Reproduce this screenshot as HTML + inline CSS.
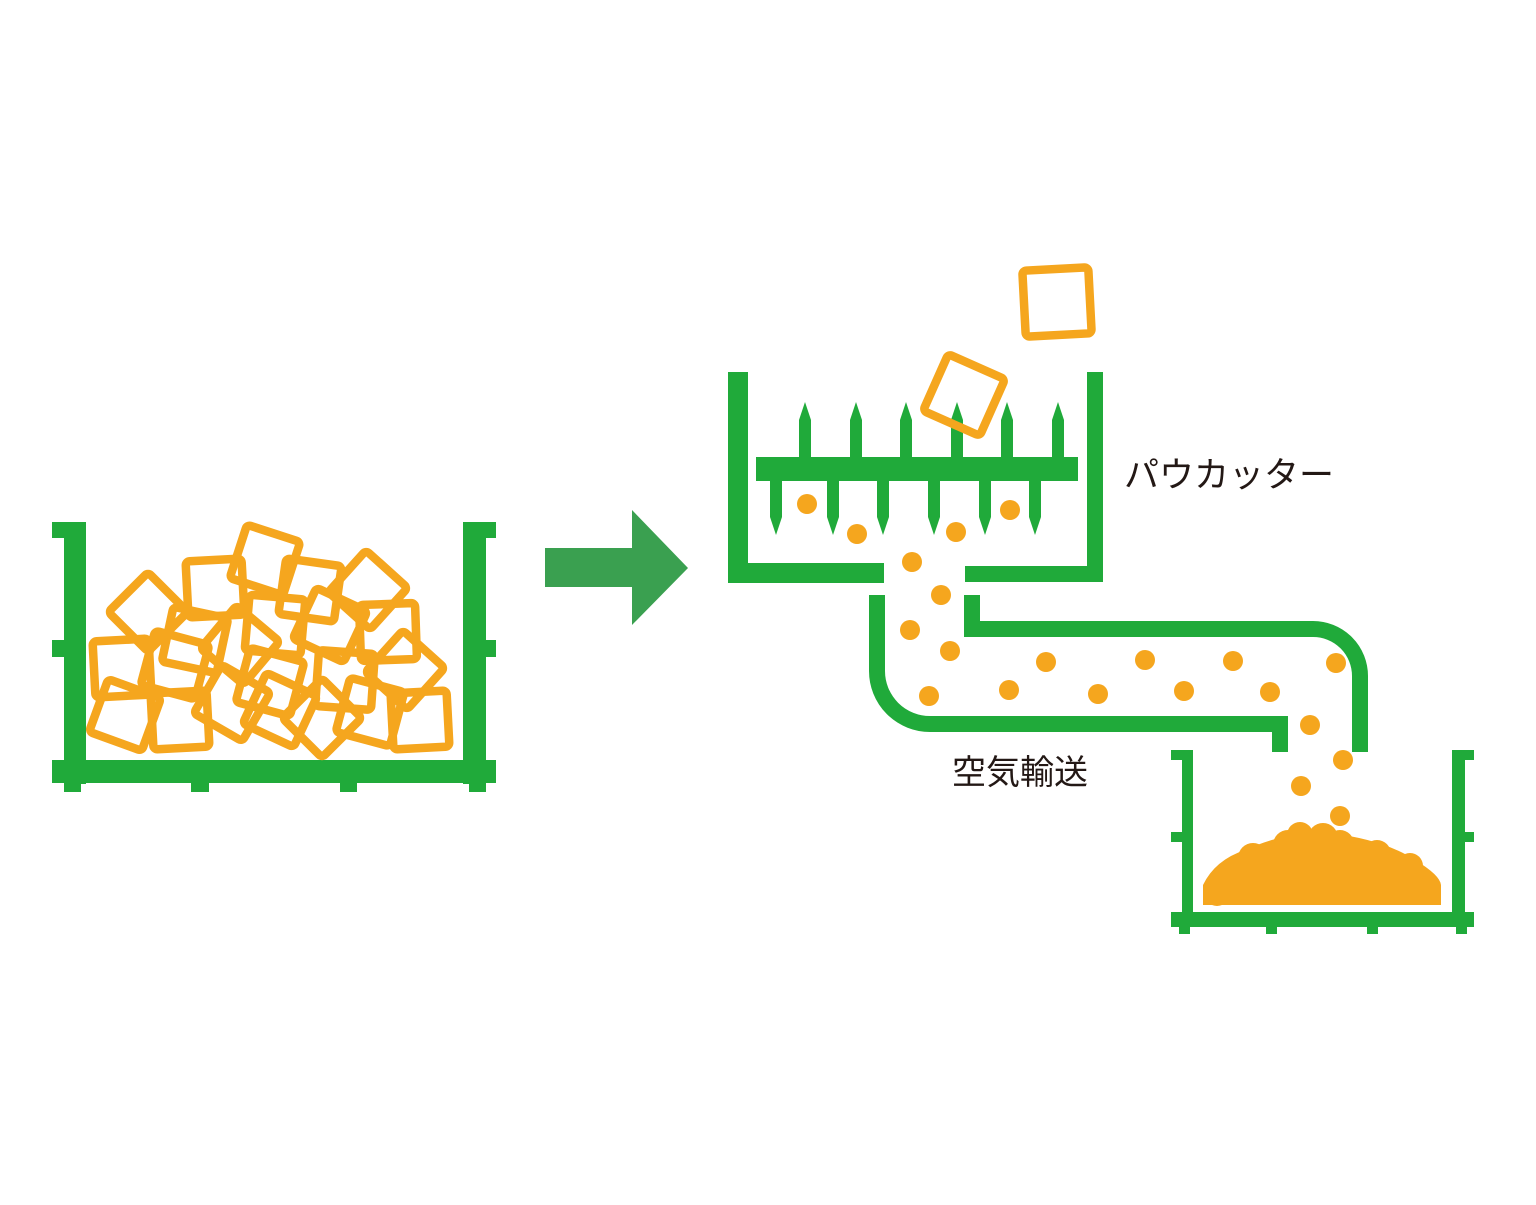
<!DOCTYPE html>
<html><head><meta charset="utf-8"><style>
html,body{margin:0;padding:0;background:#fff}
svg{display:block}
text{font-family:"Liberation Sans","Noto Sans CJK JP",sans-serif;fill:#231815}
</style></head><body>
<svg width="1536" height="1205" viewBox="0 0 1536 1205" xmlns="http://www.w3.org/2000/svg">
<g fill="#20aa3a">
<rect x="64" y="522" width="22" height="262"/>
<rect x="52" y="522" width="34" height="16"/>
<rect x="52" y="640" width="34" height="17"/>
<rect x="463" y="522" width="23" height="262"/>
<rect x="463" y="522" width="33" height="16"/>
<rect x="463" y="640" width="33" height="17"/>
<rect x="52" y="760" width="444" height="23"/>
<rect x="64" y="780" width="17" height="12"/>
<rect x="191" y="780" width="18" height="12"/>
<rect x="340" y="780" width="17" height="12"/>
<rect x="469" y="780" width="17" height="12"/>
<rect x="728" y="372" width="20" height="211"/>
<rect x="728" y="563" width="156" height="20"/>
<rect x="965" y="566" width="138" height="16"/>
<rect x="1087" y="372" width="16" height="210"/>
<rect x="756" y="457" width="322" height="24"/>
<rect x="1182" y="750" width="11" height="177"/>
<rect x="1171" y="750" width="22" height="10"/>
<rect x="1171" y="832" width="22" height="10"/>
<rect x="1452" y="750" width="13" height="177"/>
<rect x="1452" y="750" width="22" height="10"/>
<rect x="1452" y="832" width="22" height="10"/>
<rect x="1171" y="912" width="303" height="15"/>
<rect x="1179" y="925" width="11" height="9"/>
<rect x="1266" y="925" width="11" height="9"/>
<rect x="1367" y="925" width="11" height="9"/>
<rect x="1456" y="925" width="11" height="9"/>
<rect x="1272" y="716" width="16" height="36"/>
</g>
<g fill="#20aa3a">
<path d="M799,460 V420 L805,402 L811,420 V460Z"/>
<path d="M850,460 V420 L856,402 L862,420 V460Z"/>
<path d="M900,460 V420 L906,402 L912,420 V460Z"/>
<path d="M951,460 V420 L957,402 L963,420 V460Z"/>
<path d="M1001,460 V420 L1007,402 L1013,420 V460Z"/>
<path d="M1052,460 V420 L1058,402 L1064,420 V460Z"/>
<path d="M770,478 V517 L776,535 L782,517 V478Z"/>
<path d="M827,478 V517 L833,535 L839,517 V478Z"/>
<path d="M877,478 V517 L883,535 L889,517 V478Z"/>
<path d="M928,478 V517 L934,535 L940,517 V478Z"/>
<path d="M979,478 V517 L985,535 L991,517 V478Z"/>
<path d="M1029,478 V517 L1035,535 L1041,517 V478Z"/>
</g>
<g fill="none" stroke="#20aa3a" stroke-width="16">
<path d="M877,595 V671 A53,53 0 0 0 930,724 H1280"/>
<path d="M972,595 V629 H1313 A47,47 0 0 1 1360,676 V752"/>
</g>
<path d="M545,548 H632 V510 L688,568 L632,625 V587 H545Z" fill="#3aa050"/>
<g fill="none" stroke="#f5a61e" stroke-width="8.5" stroke-linejoin="round">
<rect x="-28" y="-28" width="56" height="56" rx="4" transform="translate(148,612) rotate(45)"/>
<rect x="-28" y="-28" width="56" height="56" rx="4" transform="translate(215,588) rotate(-3)"/>
<rect x="-28" y="-28" width="56" height="56" rx="4" transform="translate(265,560) rotate(18)"/>
<rect x="-28" y="-28" width="56" height="56" rx="4" transform="translate(310,590) rotate(8)"/>
<rect x="-28" y="-28" width="56" height="56" rx="4" transform="translate(368,590) rotate(42)"/>
<rect x="-28" y="-28" width="56" height="56" rx="4" transform="translate(388,632) rotate(-2)"/>
<rect x="-28" y="-28" width="56" height="56" rx="4" transform="translate(195,640) rotate(12)"/>
<rect x="-28" y="-28" width="56" height="56" rx="4" transform="translate(122,668) rotate(-3)"/>
<rect x="-28" y="-28" width="56" height="56" rx="4" transform="translate(240,645) rotate(40)"/>
<rect x="-28" y="-28" width="56" height="56" rx="4" transform="translate(275,625) rotate(5)"/>
<rect x="-28" y="-28" width="56" height="56" rx="4" transform="translate(330,625) rotate(25)"/>
<rect x="-28" y="-28" width="56" height="56" rx="4" transform="translate(345,680) rotate(4)"/>
<rect x="-28" y="-28" width="56" height="56" rx="4" transform="translate(405,670) rotate(42)"/>
<rect x="-28" y="-28" width="56" height="56" rx="4" transform="translate(175,665) rotate(15)"/>
<rect x="-28" y="-28" width="56" height="56" rx="4" transform="translate(125,715) rotate(20)"/>
<rect x="-28" y="-28" width="56" height="56" rx="4" transform="translate(180,720) rotate(-3)"/>
<rect x="-28" y="-28" width="56" height="56" rx="4" transform="translate(232,703) rotate(30)"/>
<rect x="-28" y="-28" width="56" height="56" rx="4" transform="translate(280,710) rotate(25)"/>
<rect x="-28" y="-28" width="56" height="56" rx="4" transform="translate(322,718) rotate(45)"/>
<rect x="-28" y="-28" width="56" height="56" rx="4" transform="translate(370,712) rotate(15)"/>
<rect x="-28" y="-28" width="56" height="56" rx="4" transform="translate(420,720) rotate(-3)"/>
<rect x="-28" y="-28" width="56" height="56" rx="4" transform="translate(270,682) rotate(15)"/>
<rect x="-33" y="-33" width="66" height="66" rx="4" transform="translate(1057,302) rotate(-3)"/>
<rect x="-31" y="-31" width="62" height="62" rx="4" transform="translate(964,395) rotate(24)"/>
</g>
<g fill="#f5a61e">
<circle cx="807" cy="504" r="10"/><circle cx="857" cy="534" r="10"/>
<circle cx="956" cy="532" r="10"/><circle cx="1010" cy="510" r="10"/>
<circle cx="912" cy="562" r="10"/><circle cx="941" cy="595" r="10"/>
<circle cx="910" cy="630" r="10"/><circle cx="950" cy="651" r="10"/>
<circle cx="929" cy="696" r="10"/><circle cx="1009" cy="690" r="10"/>
<circle cx="1046" cy="662" r="10"/><circle cx="1098" cy="694" r="10"/>
<circle cx="1145" cy="660" r="10"/><circle cx="1184" cy="691" r="10"/>
<circle cx="1233" cy="661" r="10"/><circle cx="1270" cy="692" r="10"/>
<circle cx="1336" cy="663" r="10"/><circle cx="1310" cy="725" r="10"/>
<circle cx="1343" cy="760" r="10"/><circle cx="1301" cy="786" r="10"/>
<circle cx="1340" cy="816" r="10"/>
<path d="M1203,905 V885 Q1215,860 1245,850 Q1290,830 1330,833 Q1385,840 1415,860 Q1440,875 1441,885 V905Z"/>
<circle cx="1217" cy="892" r="14"/><circle cx="1226" cy="878" r="14"/>
<circle cx="1253" cy="858" r="15"/><circle cx="1288" cy="845" r="15"/>
<circle cx="1323" cy="838" r="15"/><circle cx="1340" cy="844" r="14"/>
<circle cx="1377" cy="854" r="14"/><circle cx="1410" cy="866" r="13"/>
<circle cx="1428" cy="890" r="13"/><circle cx="1300" cy="835" r="13"/>
</g>
<text x="1124" y="487" font-size="35">パウカッター</text>
<text x="952" y="784" font-size="34">空気輸送</text>
</svg>
</body></html>
